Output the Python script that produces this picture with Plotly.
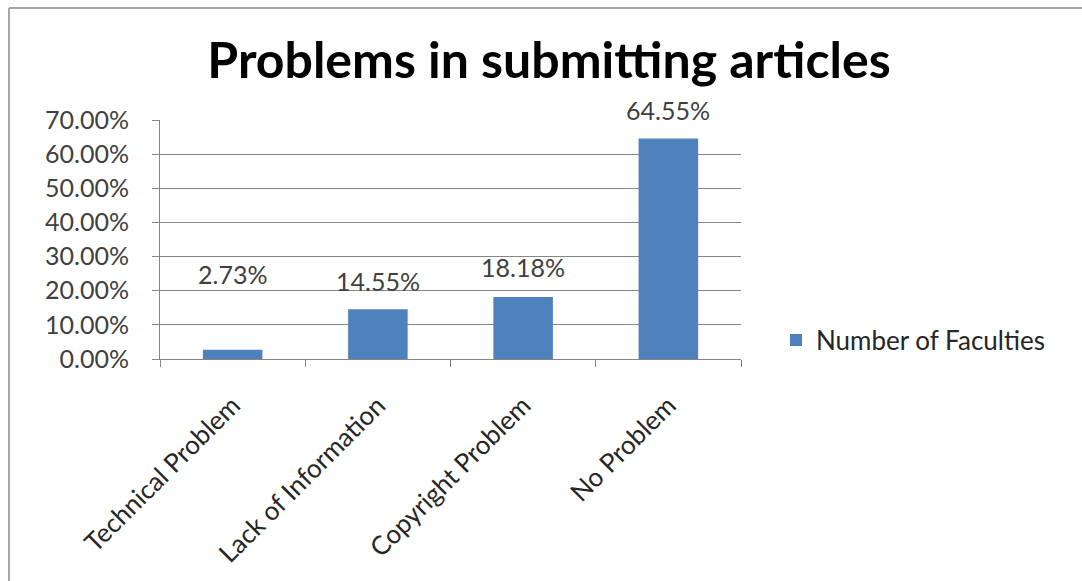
import plotly.graph_objects as go

# Survey results: problems faced by faculties when submitting articles
categories = ["Technical Problem", "Lack of Information", "Copyright Problem", "No Problem"]
shares = [0.0273, 0.1455, 0.1818, 0.6455]
series_name = "Number of Faculties"
title_text = "Problems in submitting articles"

# label offsets above each bar (pixels)
label_shift = [76, 28, 30, 29]

FONT = "Lato"
W, H = 1082, 581
L, R, T, B = 160, 341, 120, 222
plot_w = W - L - R
plot_h = H - T - B

fig = go.Figure()
fig.add_trace(go.Bar(
    x=categories,
    y=shares,
    name=series_name,
    marker=dict(color="#4F81BD", line=dict(width=0)),
    showlegend=True,
))

for cat, val, dy in zip(categories, shares, label_shift):
    fig.add_annotation(
        x=cat, y=val, text=f"{val * 100:.2f}%",
        showarrow=False, yanchor="middle", yshift=dy,
        font=dict(family=FONT, size=25, color="#404040"),
    )

# outer chart border (top and left edges visible)
px = lambda x: (x - L) / plot_w
py = lambda y: (H - B - y) / plot_h
fig.add_shape(type="line", xref="paper", yref="paper",
              x0=px(9), x1=px(W + 5), y0=py(8), y1=py(8),
              line=dict(color="#a6a6a6", width=2))
fig.add_shape(type="line", xref="paper", yref="paper",
              x0=px(9), x1=px(9), y0=py(8), y1=py(H + 5),
              line=dict(color="#a6a6a6", width=2))

fig.update_layout(
    width=W, height=H,
    margin=dict(l=L, r=R, t=T, b=B, autoexpand=False),
    paper_bgcolor="white", plot_bgcolor="white",
    bargap=0.59,
    title=dict(text=f"<b>{title_text}</b>", x=549 / W, xanchor="center",
               y=1 - 60 / H, yanchor="middle",
               font=dict(family=FONT, size=50, color="black")),
    legend=dict(x=px(776), y=py(340), xanchor="left", yanchor="middle",
                font=dict(family=FONT, size=26, color="#262626"),
                bgcolor="rgba(0,0,0,0)", itemwidth=30),
    font=dict(family=FONT, color="#404040"),
)

fig.update_yaxes(
    range=[0, 0.7], dtick=0.1, tickformat=".2%",
    showgrid=True, gridcolor="#868686", gridwidth=1,
    showline=True, linecolor="#868686", linewidth=1,
    ticks="outside", ticklen=7, tickcolor="#868686",
    ticklabelstandoff=18,
    tickfont=dict(family=FONT, size=25, color="#404040"),
    zeroline=False,
)
fig.update_xaxes(
    showline=True, linecolor="#868686", linewidth=1,
    ticks="outside", ticklen=7, tickcolor="#868686", tickson="boundaries",
    ticklabelstandoff=20,
    tickangle=-45, tickfont=dict(family=FONT, size=26, color="#262626"),
    showgrid=False,
)

fig.write_html("out.html")
